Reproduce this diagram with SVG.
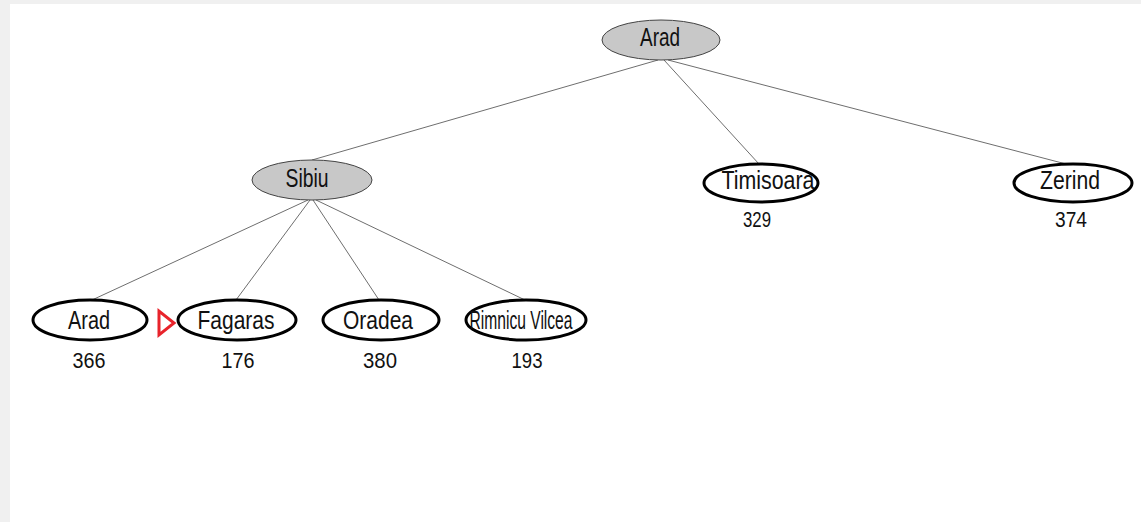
<svg xmlns="http://www.w3.org/2000/svg" width="1141" height="522" viewBox="0 0 1141 522">
  <style>
    .edge { stroke: #6e6e6e; stroke-width: 1; fill: none; }
    .expanded { fill: #c8c8c8; stroke: #444; stroke-width: 1; }
    .frontier { fill: #fff; stroke: #000; stroke-width: 3; }
    .label { font-family: "Liberation Sans", Arial, sans-serif; font-size: 25px; fill: #111; text-anchor: middle; }
    .cost { font-family: "Liberation Sans", Arial, sans-serif; font-size: 22px; fill: #111; text-anchor: middle; }
    .marker { fill: #fff; stroke: #e8232b; stroke-width: 3; stroke-linejoin: miter; }
  </style>

  <!-- page background with thin grey margin -->
  <rect x="0" y="0" width="1141" height="522" fill="#f0f0f0"/>
  <rect x="10" y="4" width="1131" height="518" fill="#ffffff"/>

  <!-- tree edges -->
  <g id="connectors">
    <line class="edge" x1="658" y1="60" x2="312" y2="160"/>
    <line class="edge" x1="664" y1="60" x2="759" y2="164"/>
    <line class="edge" x1="668" y1="60" x2="1066" y2="164"/>
    <line class="edge" x1="308" y1="200" x2="92" y2="300"/>
    <line class="edge" x1="310" y1="200" x2="236" y2="300"/>
    <line class="edge" x1="313" y1="200" x2="379" y2="300"/>
    <line class="edge" x1="316" y1="200" x2="525" y2="300"/>
  </g>

  <g id="arad-root">
    <ellipse class="expanded" cx="661" cy="40" rx="59" ry="20"/>
    <text class="label" x="660" y="46" textLength="40" lengthAdjust="spacingAndGlyphs">Arad</text>
  </g>

  <g id="sibiu">
    <ellipse class="expanded" cx="312" cy="180" rx="60" ry="20"/>
    <text class="label" x="307" y="187" textLength="43" lengthAdjust="spacingAndGlyphs">Sibiu</text>
  </g>

  <g id="timisoara">
    <ellipse class="frontier" cx="761" cy="183" rx="57" ry="19"/>
    <text class="label" x="768" y="189" textLength="93" lengthAdjust="spacingAndGlyphs">Timisoara</text>
    <text class="cost" x="757" y="227" textLength="28" lengthAdjust="spacingAndGlyphs">329</text>
  </g>

  <g id="zerind">
    <ellipse class="frontier" cx="1073" cy="183" rx="59" ry="19"/>
    <text class="label" x="1070" y="189" textLength="60" lengthAdjust="spacingAndGlyphs">Zerind</text>
    <text class="cost" x="1071" y="227" textLength="32" lengthAdjust="spacingAndGlyphs">374</text>
  </g>

  <g id="arad-leaf">
    <ellipse class="frontier" cx="90" cy="320" rx="57" ry="20"/>
    <text class="label" x="89" y="329" textLength="42" lengthAdjust="spacingAndGlyphs">Arad</text>
    <text class="cost" x="89" y="368" textLength="33" lengthAdjust="spacingAndGlyphs">366</text>
  </g>

  <g id="fagaras">
    <ellipse class="frontier" cx="237" cy="320" rx="59" ry="20"/>
    <text class="label" x="236" y="329" textLength="77" lengthAdjust="spacingAndGlyphs">Fagaras</text>
    <text class="cost" x="238" y="368" textLength="33" lengthAdjust="spacingAndGlyphs">176</text>
  </g>

  <g id="oradea">
    <ellipse class="frontier" cx="381" cy="320" rx="58" ry="20"/>
    <text class="label" x="378" y="329" textLength="70" lengthAdjust="spacingAndGlyphs">Oradea</text>
    <text class="cost" x="380" y="368" textLength="34" lengthAdjust="spacingAndGlyphs">380</text>
  </g>

  <g id="rimnicu-vilcea">
    <ellipse class="frontier" cx="526" cy="320" rx="60" ry="20"/>
    <text class="label" x="521" y="329" textLength="103" lengthAdjust="spacingAndGlyphs">Rimnicu Vilcea</text>
    <text class="cost" x="527" y="368" textLength="31" lengthAdjust="spacingAndGlyphs">193</text>
  </g>

  <!-- next-node pointer -->
  <g id="selection-pointer">
    <polygon class="marker" points="159,311 159,335 174,323"/>
  </g>
</svg>
